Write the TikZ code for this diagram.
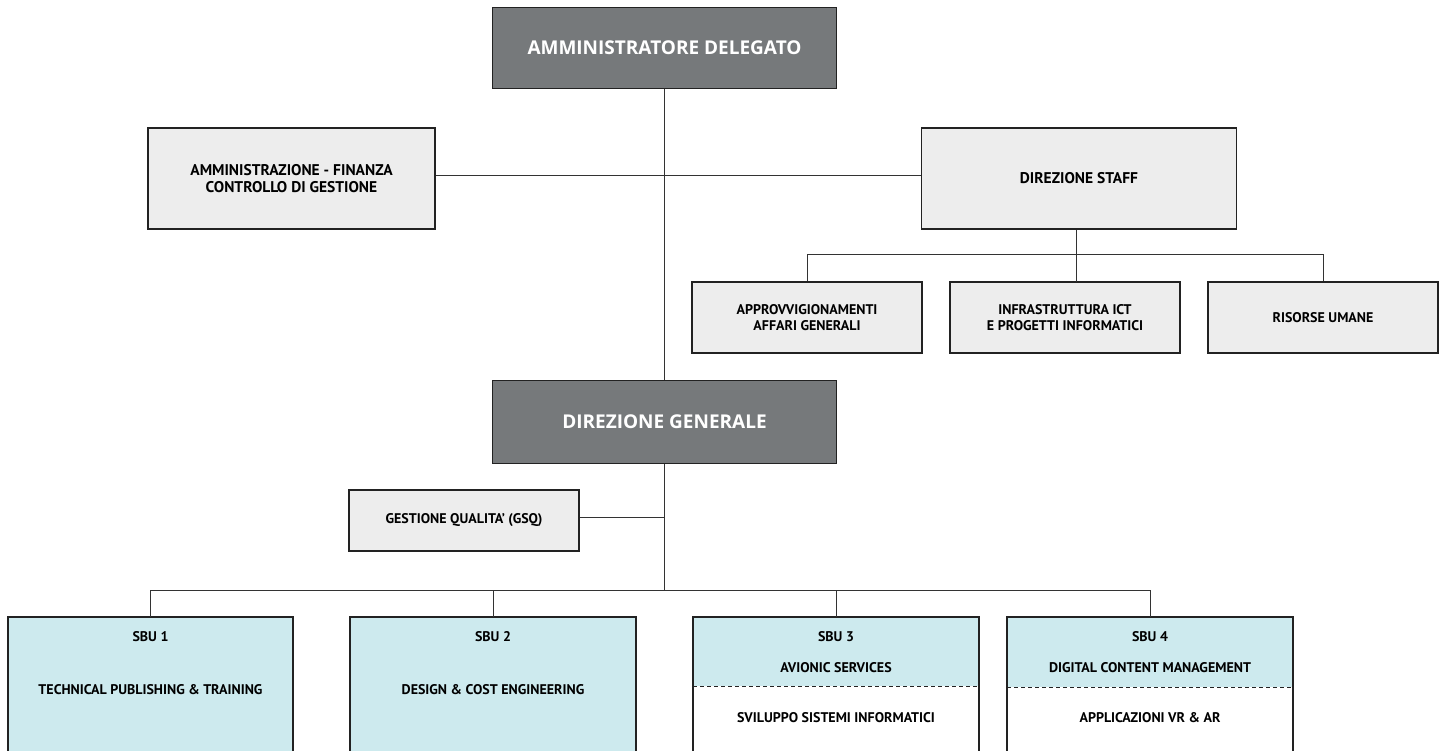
\documentclass[tikz,border=0pt]{standalone}
\usepackage{fontspec}
\setmainfont{PT Sans}
\newfontfamily\bigfont{Open Sans}
\definecolor{boxgray}{HTML}{76797B}
\definecolor{lightgray}{HTML}{EDEDED}
\definecolor{lightblue}{HTML}{CDEAEE}
\definecolor{edge}{HTML}{222222}
\definecolor{wire}{HTML}{333333}
\tikzset{
  box/.style={draw=edge, line width=1.5pt, rectangle, inner sep=0pt, align=center, font=\fontsize{14}{16.5}\selectfont\bfseries, text=black},
  topbox/.style={box, fill=boxgray, text=white, font=\bigfont\fontsize{19}{23}\selectfont\bfseries},
  graybox/.style={box, fill=lightgray},
  midbox/.style={graybox, font=\fontsize{15.5}{16.5}\selectfont\bfseries},
  sbubox/.style={draw=edge, line width=1.5pt},
  lbl/.style={inner sep=0pt, font=\fontsize{14}{16}\selectfont\bfseries},
  wireline/.style={draw=wire, line width=1pt},
}
\begin{document}
\begin{tikzpicture}[x=1pt,y=-1pt]
\useasboundingbox (0,0) rectangle (1445,751);
\clip (0,0) rectangle (1445,751);
% top
\node[topbox, minimum width=344, minimum height=81] (ad) at (664.5,48) {AMMINISTRATORE DELEGATO};
\node[topbox, minimum width=344, minimum height=83] (dg) at (664.5,422) {DIREZIONE GENERALE};
\node[midbox, minimum width=287, minimum height=101] (af) at (291.5,178.5) {AMMINISTRAZIONE - FINANZA\\CONTROLLO DI GESTIONE};
\node[midbox, minimum width=315, minimum height=101] (staff) at (1079,178.5) {DIREZIONE STAFF};
\node[graybox, minimum width=230, minimum height=71] (appr) at (807,317.5) {APPROVVIGIONAMENTI\\AFFARI GENERALI};
\node[graybox, minimum width=230, minimum height=71] (ict) at (1065,317.5) {INFRASTRUTTURA ICT\\E PROGETTI INFORMATICI};
\node[graybox, minimum width=230, minimum height=71] (hr) at (1323,317.5) {RISORSE UMANE};
\node[graybox, minimum width=230, minimum height=61] (gsq) at (464,520.5) {GESTIONE QUALITA' (GSQ)};

% connectors
\coordinate (j1) at (664.5,176);
\coordinate (j2) at (664.5,517);
\coordinate (bar) at (664.5,590);
\draw[wireline] (ad.south) -- (dg.north);
\draw[wireline] (af.east |- j1) -- (staff.west |- j1);
\draw[wireline] (dg.south) -- (bar);
\draw[wireline] (gsq.east |- j2) -- (j2);

% staff sub
\coordinate (sbar) at (1076,255);
\draw[wireline] (staff.south -| sbar) -- (sbar);
\draw[wireline] (appr.north) -- (appr.north |- sbar) -- (hr.north |- sbar) -- (hr.north);
\draw[wireline] (sbar) -- (1076,282);

% SBU boxes
\coordinate (s1) at (150.5,617);
\coordinate (s2) at (493,617);
\coordinate (s3) at (836,617);
\coordinate (s4) at (1150,617);
\fill[lightblue] (8,617) rectangle (293,780);
\draw[sbubox] (8,780) -- (8,617) -- (293,617) -- (293,780);
\fill[lightblue] (350,617) rectangle (636,780);
\draw[sbubox] (350,780) -- (350,617) -- (636,617) -- (636,780);
\fill[lightblue] (693,617) rectangle (979,686);
\draw[sbubox] (693,780) -- (693,617) -- (979,617) -- (979,780);
\draw[edge, line width=1pt, dashed, dash pattern=on 4pt off 3pt] (693,686) -- (979,686);
\fill[lightblue] (1007,617) rectangle (1293,687);
\draw[sbubox] (1007,780) -- (1007,617) -- (1293,617) -- (1293,780);
\draw[edge, line width=1pt, dashed, dash pattern=on 4pt off 3pt] (1007,687) -- (1293,687);

\draw[wireline] (s1) -- (s1 |- bar) -- (s4 |- bar) -- (s4);
\draw[wireline] (s2 |- bar) -- (s2);
\draw[wireline] (s3 |- bar) -- (s3);

\node[lbl] (l1a) at (150.5,637) {SBU 1};
\node[lbl] (l1b) at (150.5,690) {TECHNICAL PUBLISHING \& TRAINING};
\node[lbl] (l2a) at (493,637) {SBU 2};
\node[lbl] (l2b) at (493,690) {DESIGN \& COST ENGINEERING};
\node[lbl] (l3a) at (836,637) {SBU 3};
\node[lbl] (l3b) at (836,668) {AVIONIC SERVICES};
\node[lbl] (l3c) at (836,718) {SVILUPPO SISTEMI INFORMATICI};
\node[lbl] (l4a) at (1150,637) {SBU 4};
\node[lbl] (l4b) at (1150,668) {DIGITAL CONTENT MANAGEMENT};
\node[lbl] (l4c) at (1150,718) {APPLICAZIONI VR \& AR};
\end{tikzpicture}
\end{document}
